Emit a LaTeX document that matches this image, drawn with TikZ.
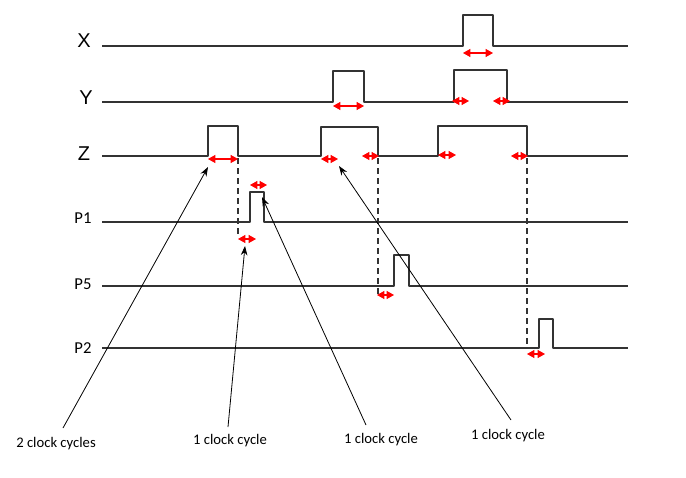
\documentclass[tikz,border=0pt]{standalone}
\usepackage{fontspec}
\setmainfont{Carlito}
\newfontfamily\arialfont{Liberation Sans}
\usetikzlibrary{arrows.meta}
\definecolor{sig}{HTML}{333333}
\tikzset{
  signal/.style={draw=sig, line width=1.6pt, line join=round},
  guide/.style={draw=sig, line width=1.4pt, dash pattern=on 4.5pt off 3pt},
  span/.style={draw=red, line width=0.8pt, {Triangle[length=5.5pt,width=6pt]}-{Triangle[length=5.5pt,width=6pt]}},
  note/.style={draw=black, line width=0.6pt, -{Stealth[length=7pt,width=5pt]}},
  siglabel/.style={font=\arialfont\fontsize{15}{17}\selectfont, inner sep=0pt},
  plabel/.style={font=\fontsize{12.5}{14}\selectfont, inner sep=0pt},
  cyclabel/.style={font=\fontsize{11}{13}\selectfont, inner sep=0pt}
}
\begin{document}
\begin{tikzpicture}[x=0.75pt,y=-0.75pt]
\useasboundingbox (0,0) rectangle (686,478);
% labels
\node[siglabel] (lX) at (84,41) {X};
\node[siglabel] (lY) at (86,98) {Y};
\node[siglabel] (lZ) at (84,154) {Z};
\node[plabel] (lP1) at (83,218) {P1};
\node[plabel] (lP5) at (83,284) {P5};
\node[plabel] (lP2) at (83,348) {P2};
% signals
\draw[signal] (102,46) -- (463,46) -- (463,15) -- (493,15) -- (493,46) -- (628,46);
\draw[signal] (102,102) -- (333,102) -- (333,71) -- (364,71) -- (364,102) -- (454,102) -- (454,70) -- (507,70) -- (507,102) -- (628,102);
\draw[signal] (102,156) -- (208,156) -- (208,126) -- (238,126) -- (238,156) -- (321,156) -- (321,127) -- (378,127) -- (378,156) -- (438,156) -- (438,126) -- (527,126) -- (527,156) -- (628,156);
\draw[signal] (102,222) -- (250,222) -- (250,192) -- (264,192) -- (264,222) -- (628,222);
\draw[signal] (102,286) -- (394,286) -- (394,255) -- (409,255) -- (409,286) -- (628,286);
\draw[signal] (102,348) -- (539,348) -- (539,319) -- (553,319) -- (553,348) -- (628,348);
% dashed guides
\draw[guide] (238,158) -- (238,237);
\draw[guide] (378,158) -- (378,298);
\draw[guide] (527,158) -- (527,348);
% red spans
\draw[span] (463,53) -- (493,53);
\draw[span] (333,106) -- (364,106);
\draw[span] (452,101) -- (469,101);
\draw[span] (493,101) -- (510,101);
\draw[span] (208,159) -- (238,159);
\draw[span] (321,159) -- (338,159);
\draw[span] (362,156) -- (379,156);
\draw[span] (438,155) -- (456,155);
\draw[span] (511,156) -- (528,156);
\draw[span] (250,185) -- (267,185);
\draw[span] (238,239) -- (256,239);
\draw[span] (377,295) -- (394,295);
\draw[span] (527,354) -- (545,354);
% annotation texts
\node[cyclabel] (c1) at (56,444) {2 clock cycles};
\node[cyclabel] (c2) at (230,441) {1 clock cycle};
\node[cyclabel] (c3) at (381,440) {1 clock cycle};
\node[cyclabel] (c4) at (508,436) {1 clock cycle};
% arrow ends
\coordinate (s1) at (63,428);
\coordinate (s2) at (228,427);
\coordinate (s3) at (366,425);
\coordinate (s4) at (511,420);
\coordinate (t1) at (208,167);
\coordinate (t2) at (245,246);
\coordinate (t3) at (262,197);
\coordinate (t4) at (339,166);
\draw[note] (s1) -- (t1);
\draw[note] (s2) -- (t2);
\draw[note] (s3) -- (t3);
\draw[note] (s4) -- (t4);
\end{tikzpicture}
\end{document}
